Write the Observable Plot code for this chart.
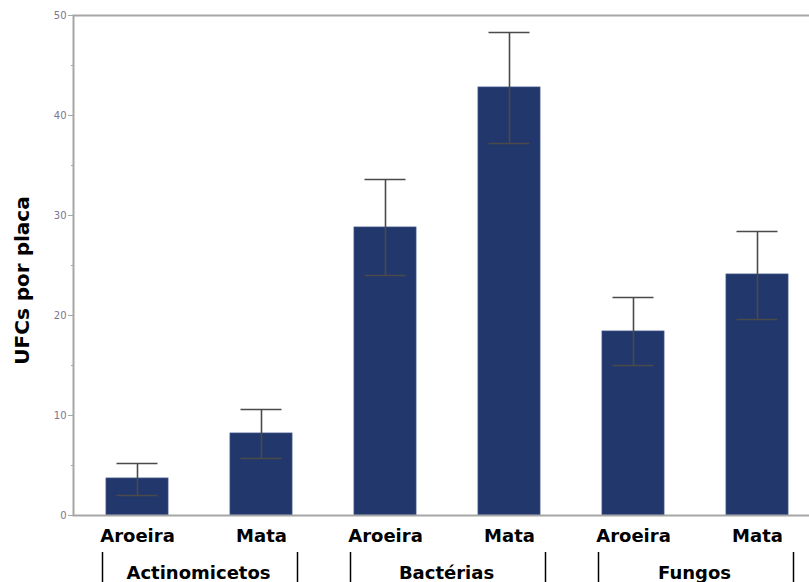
<!DOCTYPE html>
<html>
<head>
<meta charset="utf-8">
<script src="https://cdn.jsdelivr.net/npm/d3@7"></script>
<script src="https://cdn.jsdelivr.net/npm/@observablehq/plot@0.6"></script>
<style>
  html, body { margin: 0; padding: 0; background: white; overflow: hidden; }
</style>
</head>
<body>
<div id="chart"></div>
<script>
const groups = ["Actinomicetos", "Bactérias", "Fungos"];
const sites = ["Aroeira", "Mata"];
const means = [3.7, 8.2, 28.8, 42.8, 18.4, 24.1];
const lows  = [2.0, 5.7, 24.0, 37.2, 15.0, 19.6];
const highs = [5.2, 10.6, 33.6, 48.3, 21.8, 28.4];
const yTicks = [0, 10, 20, 30, 40, 50];
const yMinorTicks = [5, 15, 25, 35, 45];
const yTitle = "UFCs por placa";

const data = [];
groups.forEach((g, gi) => sites.forEach((s, si) => {
  const k = gi * sites.length + si;
  data.push({key: g + "|" + s, group: g, site: s, mean: means[k], lo: lows[k], hi: highs[k]});
}));
const keys = data.map(d => d.key);
const firsts = data.filter(d => d.site === sites[0]);
const lasts = data.filter(d => d.site === sites[sites.length - 1]);

const barColor = "#22376b";
const axisGrey = "#a6a6a6";
const errColor = "#4a4a4a";
const font = "DejaVu Sans, sans-serif";

const chart = Plot.plot({
  width: 809,
  height: 582,
  marginLeft: 73,
  marginRight: -11,
  marginTop: 15,
  marginBottom: 67,
  style: {background: "white", fontFamily: font},
  x: {domain: keys, paddingInner: 0.5, paddingOuter: 0.25, axis: null},
  y: {domain: [0, 50], axis: null},
  marks: [
    Plot.barY(data, {x: "key", y: "mean", fill: barColor, stroke: "#3a4f82", strokeWidth: 0.8}),
    Plot.ruleX(data, {x: "key", y1: "lo", y2: "hi", stroke: errColor, strokeWidth: 1.6}),
    Plot.tickY(data, {x: "key", y: "hi", stroke: errColor, strokeWidth: 1.6, insetLeft: 10.5, insetRight: 10.5}),
    Plot.tickY(data, {x: "key", y: "lo", stroke: errColor, strokeWidth: 1.6, insetLeft: 10.5, insetRight: 10.5}),
    Plot.frame({stroke: axisGrey, strokeWidth: 2}),
    Plot.axisY({ticks: yTicks, tickSize: 5, tickPadding: 2, stroke: axisGrey, fill: "#7d7590", fontSize: 10, label: null, fontFamily: font}),
    Plot.axisY({ticks: yMinorTicks, tickSize: 2, tickFormat: () => "", stroke: axisGrey, label: null}),
    Plot.axisX({tickSize: 0, tickPadding: 14, fontSize: 18, fontWeight: "bold", fill: "#000", tickFormat: d => d.split("|")[1], label: null, fontFamily: font}),
    Plot.ruleX(firsts, {x: "key", y1: 0, y2: 0, dx: -35, insetTop: 37, insetBottom: -67, stroke: "#000", strokeWidth: 1.5}),
    Plot.ruleX(lasts, {x: "key", y1: 0, y2: 0, dx: 36, insetTop: 37, insetBottom: -67, stroke: "#000", strokeWidth: 1.5}),
    Plot.text(lasts, {x: "key", y: 0, text: "group", dx: -63, dy: 58, fontSize: 18, fontWeight: "bold", fill: "#000", fontFamily: font}),
    Plot.text([yTitle], {frameAnchor: "left", textAnchor: "middle", lineAnchor: "middle", rotate: -90, dx: -51, dy: 15, fontSize: 20, fontWeight: "bold", fill: "#000", fontFamily: font})
  ]
});
document.getElementById("chart").append(chart);
</script>
</body>
</html>
